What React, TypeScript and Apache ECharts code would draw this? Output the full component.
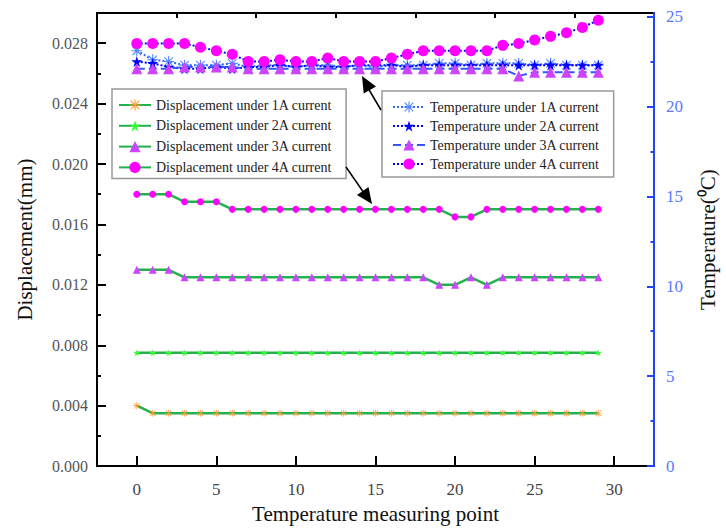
import React, { useEffect, useRef } from "react";
import * as echarts from "echarts";

const points = [0, 1, 2, 3, 4, 5, 6, 7, 8, 9, 10, 11, 12, 13, 14, 15, 16, 17, 18, 19, 20, 21, 22, 23, 24, 25, 26, 27, 28, 29];

const disp1A = [0.004, 0.0035, 0.0035, 0.0035, 0.0035, 0.0035, 0.0035, 0.0035, 0.0035, 0.0035, 0.0035, 0.0035, 0.0035, 0.0035, 0.0035, 0.0035, 0.0035, 0.0035, 0.0035, 0.0035, 0.0035, 0.0035, 0.0035, 0.0035, 0.0035, 0.0035, 0.0035, 0.0035, 0.0035, 0.0035];
const disp2A = [0.0075, 0.0075, 0.0075, 0.0075, 0.0075, 0.0075, 0.0075, 0.0075, 0.0075, 0.0075, 0.0075, 0.0075, 0.0075, 0.0075, 0.0075, 0.0075, 0.0075, 0.0075, 0.0075, 0.0075, 0.0075, 0.0075, 0.0075, 0.0075, 0.0075, 0.0075, 0.0075, 0.0075, 0.0075, 0.0075];
const disp3A = [0.013, 0.013, 0.013, 0.0125, 0.0125, 0.0125, 0.0125, 0.0125, 0.0125, 0.0125, 0.0125, 0.0125, 0.0125, 0.0125, 0.0125, 0.0125, 0.0125, 0.0125, 0.0125, 0.012, 0.012, 0.0125, 0.012, 0.0125, 0.0125, 0.0125, 0.0125, 0.0125, 0.0125, 0.0125];
const disp4A = [0.018, 0.018, 0.018, 0.0175, 0.0175, 0.0175, 0.017, 0.017, 0.017, 0.017, 0.017, 0.017, 0.017, 0.017, 0.017, 0.017, 0.017, 0.017, 0.017, 0.017, 0.0165, 0.0165, 0.017, 0.017, 0.017, 0.017, 0.017, 0.017, 0.017, 0.017];

const temp1A = [23.1, 22.6, 22.5, 22.3, 22.3, 22.3, 22.4, 22.2, 22.3, 22.3, 22.2, 22.3, 22.3, 22.2, 22.3, 22.2, 22.3, 22.3, 22.3, 22.4, 22.4, 22.3, 22.4, 22.4, 22.4, 22.3, 22.4, 22.3, 22.3, 22.3];
const temp2A = [22.5, 22.4, 22.2, 22.1, 22.1, 22.2, 22.1, 22.2, 22.2, 22.3, 22.2, 22.3, 22.2, 22.2, 22.3, 22.3, 22.3, 22.2, 22.3, 22.3, 22.3, 22.3, 22.3, 22.3, 22.3, 22.3, 22.3, 22.3, 22.3, 22.3];
const temp3A = [22.1, 22.1, 22.1, 22.2, 22.2, 22.2, 22.2, 22.1, 22.1, 22.1, 22.1, 22.1, 22.1, 22.1, 22.1, 22.1, 22.1, 22.1, 22.1, 22.1, 22.1, 22.1, 22.1, 22.1, 21.7, 21.9, 21.9, 21.9, 21.9, 21.9];
const temp4A = [23.5, 23.5, 23.5, 23.5, 23.3, 23.1, 22.9, 22.5, 22.5, 22.6, 22.5, 22.5, 22.7, 22.5, 22.5, 22.5, 22.7, 22.9, 23.1, 23.1, 23.1, 23.1, 23.1, 23.4, 23.5, 23.7, 23.9, 24.1, 24.4, 24.8];

const xTicks = [0, 5, 10, 15, 20, 25, 30];
const xMinorTicks = [2.5, 7.5, 12.5, 17.5, 22.5, 27.5];
const dispTicks = [0, 0.004, 0.008, 0.012, 0.016, 0.02, 0.024, 0.028];
const dispMinorTicks = [0.002, 0.006, 0.01, 0.014, 0.018, 0.022, 0.026];
const tempTicks = [0, 5, 10, 15, 20, 25];
const tempMinorTicks = [2.5, 7.5, 12.5, 17.5, 22.5];

const dispNames = [
  "Displacement under 1A current",
  "Displacement under 2A current",
  "Displacement under 3A current",
  "Displacement under 4A current",
];
const tempNames = [
  "Temperature under 1A current",
  "Temperature under 2A current",
  "Temperature under 3A current",
  "Temperature under 4A current",
];

const SERIF = "'Liberation Serif', 'Times New Roman', serif";
const STAR = "path://M50,0 L61,35 L98,35 L68,57 L79,91 L50,70 L21,91 L32,57 L2,35 L39,35 Z";
const ASTER =
  "path://M45,0 H55 V100 H45 Z M0,45 H100 V55 H0 Z M8,15 L15,8 L92,85 L85,92 Z M85,8 L92,15 L15,92 L8,85 Z";

const pairs = (vals: number[]) => points.map((p, i) => [p, vals[i]]);

export default function App() {
  const ref = useRef<HTMLDivElement>(null);
  useEffect(() => {
    if (!ref.current) return;
    const chart = echarts.init(ref.current, null, { renderer: "svg" });
    const green = "#22b14c";
    const dispSeries = [
      { name: dispNames[0], data: pairs(disp1A), symbol: ASTER, symbolSize: 7, color: "#ff9933" },
      { name: dispNames[1], data: pairs(disp2A), symbol: STAR, symbolSize: 7, color: "#33ff33" },
      { name: dispNames[2], data: pairs(disp3A), symbol: "triangle", symbolSize: 8, color: "#cc44ff" },
      { name: dispNames[3], data: pairs(disp4A), symbol: "circle", symbolSize: 7, color: "#ff00ff" },
    ].map((s) => ({
      type: "line",
      name: s.name,
      data: s.data,
      xAxisIndex: 0,
      yAxisIndex: 0,
      symbol: s.symbol,
      symbolSize: s.symbolSize,
      showAllSymbol: true,
      itemStyle: { color: s.color },
      lineStyle: { color: green, width: 2.5 },
      z: 3,
    }));
    const tempSeries = [
      { name: tempNames[0], data: pairs(temp1A), symbol: ASTER, symbolSize: 11, color: "#5588ff", line: "#3366ff", type: "dotted" },
      { name: tempNames[1], data: pairs(temp2A), symbol: STAR, symbolSize: 11, color: "#0000ff", line: "#0000ff", type: "dotted" },
      { name: tempNames[2], data: pairs(temp3A), symbol: "triangle", symbolSize: 11, color: "#cc44ff", line: "#3355ff", type: "dashed" },
      { name: tempNames[3], data: pairs(temp4A), symbol: "circle", symbolSize: 11, color: "#ff00ff", line: "#0000ff", type: "dotted" },
    ].map((s, i) => ({
      type: "line",
      name: s.name,
      data: s.data,
      xAxisIndex: 0,
      yAxisIndex: 1,
      symbol: s.symbol,
      symbolSize: s.symbolSize,
      showAllSymbol: true,
      itemStyle: { color: s.color },
      lineStyle: { color: s.line, width: 2, type: s.type },
      z: 4 + i,
    }));

    const legendBase = {
      orient: "vertical",
      itemWidth: 32,
      itemHeight: 14,
      borderColor: "#999",
      borderWidth: 1.5,
      backgroundColor: "#fff",
      borderRadius: 0,
      textStyle: { fontFamily: SERIF, color: "#222", fontSize: 14 },
      z: 10,
    };

    chart.setOption({
      animation: false,
      backgroundColor: "#fff",
      grid: {
        left: 97,
        right: 63,
        top: 13,
        bottom: 61,
        show: true,
        borderColor: "#000",
        borderWidth: 2,
        backgroundColor: "transparent",
      },
      xAxis: [
        {
          type: "value",
          min: -2.5,
          max: 32.5,
          name: "Temperature measuring point",
          nameLocation: "middle",
          nameGap: 36,
          nameTextStyle: { fontFamily: SERIF, fontSize: 21, color: "#111" },
          axisLine: { show: true, onZero: false, lineStyle: { color: "#000", width: 2 } },
          axisTick: { show: true, inside: true, length: 10, customValues: xTicks, lineStyle: { color: "#000", width: 2 } },
          axisLabel: { customValues: xTicks, fontFamily: SERIF, fontSize: 17, color: "#444", margin: 15 },
          splitLine: { show: false },
        },
        {
          type: "value",
          min: -2.5,
          max: 32.5,
          axisLine: { show: false, onZero: false },
          axisTick: { show: true, inside: true, length: 5, customValues: xMinorTicks, lineStyle: { color: "#000", width: 2 } },
          axisLabel: { show: false },
          splitLine: { show: false },
        },
      ],
      yAxis: [
        {
          type: "value",
          position: "left",
          min: 0,
          max: 0.03,
          name: "Displacement(mm)",
          nameLocation: "middle",
          nameGap: 62,
          nameRotate: 90,
          nameTextStyle: { fontFamily: SERIF, fontSize: 21, color: "#111" },
          axisLine: { show: true, onZero: false, lineStyle: { color: "#000", width: 2 } },
          axisTick: { show: true, inside: true, length: 9, customValues: dispTicks, lineStyle: { color: "#000", width: 2 } },
          axisLabel: {
            customValues: dispTicks,
            formatter: (v: number) => v.toFixed(3),
            fontFamily: SERIF,
            fontSize: 16,
            color: "#555",
            margin: 9,
          },
          splitLine: { show: false },
        },
        {
          type: "value",
          position: "right",
          min: 0,
          max: 25.2,
          name: "Temperature(⁰C)",
          nameLocation: "middle",
          nameGap: 43,
          nameRotate: 90,
          nameTextStyle: { fontFamily: SERIF, fontSize: 21, color: "#111" },
          axisLine: { show: true, onZero: false, lineStyle: { color: "#2244ff", width: 2 } },
          axisTick: { show: true, inside: true, length: 7, customValues: tempTicks, lineStyle: { color: "#2244ff", width: 2 } },
          axisLabel: { customValues: tempTicks, fontFamily: SERIF, fontSize: 17, color: "#5a78ff", margin: 12 },
          splitLine: { show: false },
          z: 5,
        },
        {
          type: "value",
          position: "left",
          min: 0,
          max: 0.03,
          axisLine: { show: false, onZero: false },
          axisTick: { show: true, inside: true, length: 4, customValues: dispMinorTicks, lineStyle: { color: "#000", width: 2 } },
          axisLabel: { show: false },
          splitLine: { show: false },
        },
        {
          type: "value",
          position: "right",
          min: 0,
          max: 25.2,
          axisLine: { show: false, onZero: false },
          axisTick: { show: true, inside: true, length: 3.5, customValues: tempMinorTicks, lineStyle: { color: "#2244ff", width: 2 } },
          axisLabel: { show: false },
          splitLine: { show: false },
        },
      ],
      legend: [
        {
          ...legendBase,
          data: dispNames,
          left: 112,
          top: 89,
          itemGap: 6.8,
          padding: [9, 14, 4, 6],
        },
        {
          ...legendBase,
          data: tempNames,
          left: 382,
          top: 91,
          itemGap: 5,
          padding: [9, 14, 6, 10],
        },
      ],
      graphic: [
        { type: "line", shape: { x1: 346, y1: 167, x2: 364, y2: 193 }, style: { stroke: "#000", lineWidth: 1.5 }, z: 20 },
        { type: "polygon", shape: { points: [[372, 204], [357, 195], [368.5, 187]] }, style: { fill: "#000" }, z: 20 },
        { type: "line", shape: { x1: 381, y1: 110, x2: 368, y2: 88 }, style: { stroke: "#000", lineWidth: 1.5 }, z: 20 },
        { type: "polygon", shape: { points: [[362, 76], [376, 86.6], [363.7, 93.4]] }, style: { fill: "#000" }, z: 20 },
      ],
      series: [...dispSeries, ...tempSeries],
    });
    return () => chart.dispose();
  }, []);
  return (
    <div
      ref={ref}
      style={{ position: "absolute", left: 0, top: 0, width: 726, height: 529 }}
    />
  );
}
